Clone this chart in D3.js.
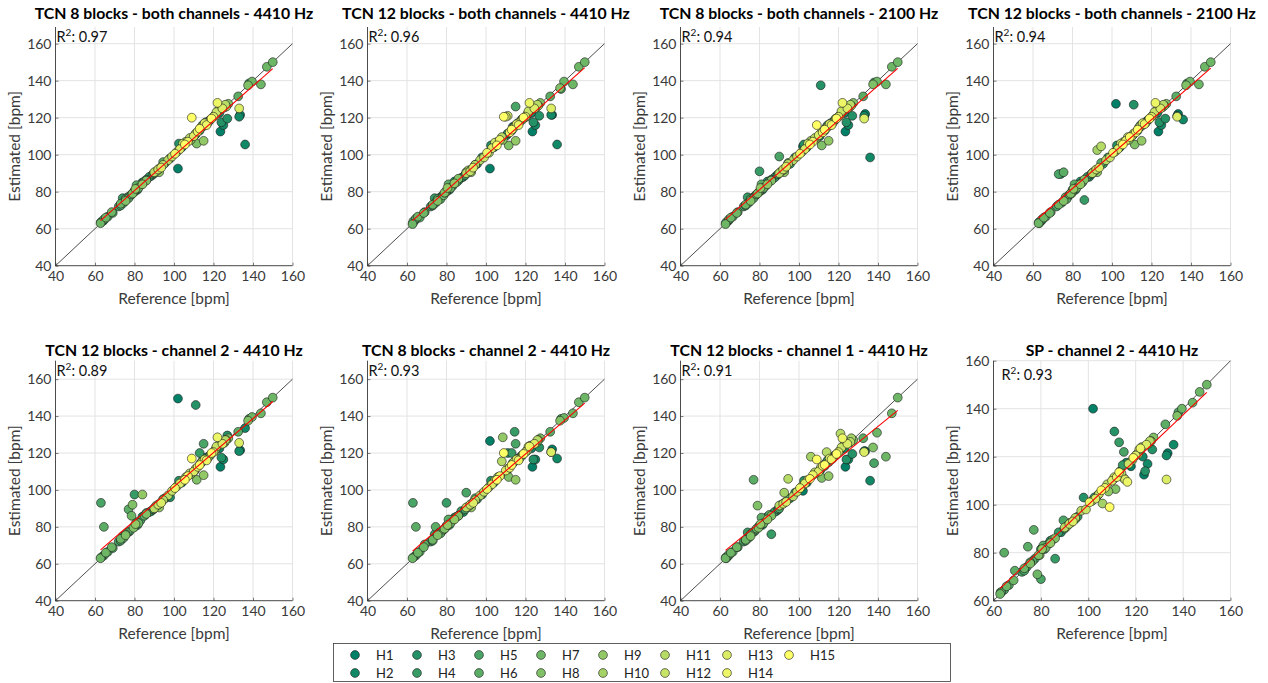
<!DOCTYPE html>
<html><head><meta charset="utf-8">
<script src="https://cdn.jsdelivr.net/npm/d3@7"></script>
<style>
body{margin:0;background:#fff}
text{font-family:Lato,"Open Sans",sans-serif}
</style>
</head><body>
<svg id="chart" width="1268" height="683"></svg>
<script>
// Reference heart rate per recording and the subject it belongs to (H1..H15)
const reference = [
  62.8, 63.2, 64.5, 65.5, 66.5, 68.5, 69, 72, 73, 74,
  74.5, 75.5, 76.5, 77.5, 78.5, 79.5, 80, 80.5, 81, 81.5,
  82, 83, 84, 85, 86, 87.5, 88.5, 89.5, 90, 91,
  92, 92.5, 93.5, 94.5, 95.5, 97, 98, 99, 100.5, 101.5,
  102, 102.5, 103, 104, 104.5, 105.5, 106, 107, 108, 108.5,
  109, 110, 110.5, 111, 111.5, 112, 113, 113.5, 114, 114.5,
  115, 115.5, 116, 116.5, 117, 118, 118.5, 119, 120, 120.5,
  121, 121.5, 122, 122.5, 123, 123.5, 124, 124.5, 125, 125.5,
  126, 126.5, 127, 127.5, 132.5, 133, 133, 133.5, 136, 137.5,
  139.5, 144, 147, 150, 111, 80, 90, 86, 73, 75.5,
  92.5, 94.5, 63, 64.5, 79, 84, 113, 115, 77, 138
];
const subject = [
  7, 6, 5, 7, 6, 7, 6, 5, 7, 4,
  6, 8, 6, 5, 7, 8, 5, 9, 6, 4,
  7, 5, 3, 6, 8, 4, 3, 5, 11, 10,
  12, 9, 13, 6, 4, 11, 3, 12, 14, 11,
  1, 3, 13, 2, 12, 15, 10, 14, 11, 9,
  15, 13, 2, 12, 8, 14, 15, 3, 11, 4,
  9, 13, 2, 14, 12, 1, 10, 15, 13, 4,
  11, 12, 14, 10, 2, 1, 3, 13, 2, 9,
  11, 10, 3, 8, 6, 13, 2, 1, 2, 8,
  7, 7, 7, 7, 3, 4, 5, 4, 5, 6,
  10, 11, 5, 6, 8, 9, 4, 5, 6, 5
];

// Estimated heart rate per recording, one array per method
const estTcn8Both4410 = [
  63, 63.5, 64.5, 66, 66.5, 69, 68.5, 72, 73.5, 76.5,
  74, 75, 77, 77.5, 78.5, 79.5, 80, 81.5, 83.5, 81,
  82, 83.5, 85, 85.5, 86, 88, 88.5, 89.5, 90.5, 91,
  92, 90.5, 93, 96, 95.5, 97, 98, 99, 100.5, 101.5,
  92.5, 106, 103, 104, 106, 105.5, 107, 107, 109, 108,
  120, 110, 110.5, 111.5, 106, 112.5, 114, 114.5, 115, 116,
  107.5, 117, 117.5, 116, 117, 118.5, 119, 119.5, 120.5, 121,
  121.5, 123, 128, 124, 122.5, 112.5, 117.5, 125, 116, 125.5,
  127, 126, 119.5, 127.5, 131.5, 125, 120.5, 121.5, 105.5, 137.5,
  139.5, 138, 147.5, 150, 111, 80.5, 90, 86.5, 72.5, 76,
  92.5, 94.5, 63.5, 65, 79, 84, 113, 115.5, 76.5, 138.5
];
const estTcn12Both4410 = [
  62.5, 64, 65, 66.5, 66, 68.5, 69, 72, 73, 76.5,
  74, 75, 76.5, 77.5, 78, 79.5, 80.5, 82, 84, 81,
  82, 83, 85.5, 85, 87, 87.5, 88, 89, 90, 91.5,
  91, 90.5, 93, 94.5, 95, 97, 98.5, 98.5, 101, 101,
  92.5, 105, 103.5, 104, 106.5, 105, 107, 108, 109.5, 108,
  120.5, 120.5, 110.5, 121, 105, 112, 113.5, 115, 114.5, 115.5,
  107.5, 116.5, 117, 116, 117.5, 119, 119, 120, 120.5, 120.5,
  122, 123.5, 128, 124, 122.5, 112.5, 117.5, 125, 116, 125.5,
  127, 126.5, 121, 128, 131.5, 125, 121.5, 121.5, 105.5, 136,
  139.5, 138, 147.5, 150, 111.5, 80, 90.5, 86, 72.5, 76,
  92, 94.5, 63, 65.5, 79.5, 84.5, 113, 126, 76, 135.5
];
const estTcn8Both2100 = [
  62.5, 63.5, 64.5, 66, 66.5, 68.5, 69, 72, 73, 77,
  74, 75, 76.5, 77.5, 78.5, 79.5, 80, 82, 84, 81,
  82, 83, 85.5, 85.5, 86, 87.5, 88.5, 89.5, 90, 91,
  92, 90.5, 93.5, 95.5, 95, 97, 98.5, 99, 100.5, 101.5,
  104.5, 105.5, 103, 104, 106, 105.5, 107.5, 107, 109, 108.5,
  116, 110.5, 110, 111.5, 105, 112, 113.5, 114.5, 114.5, 116,
  107.5, 116.5, 117, 116, 117, 118.5, 119.5, 119.5, 120.5, 121,
  121.5, 123.5, 128, 124, 122.5, 112.5, 117.5, 125, 116, 125.5,
  127, 126.5, 121, 128, 131.5, 119.5, 121, 122, 98.5, 138,
  139.5, 138, 147.5, 150, 137.5, 91, 99, 86.5, 72.5, 76,
  92, 95, 63, 65, 79, 84, 113, 115.5, 76.5, 139
];
const estTcn12Both2100 = [
  63, 63, 64.5, 66, 66.5, 68.5, 69, 72, 73, 89.5,
  74, 75, 77, 77, 78.5, 79, 80, 81.5, 84, 81,
  82, 83.5, 85.5, 85, 86.5, 88, 88, 89.5, 90, 91,
  92, 90.5, 93, 95.5, 95, 97, 98.5, 98.5, 101, 101.5,
  127.5, 105, 103, 104, 106, 105.5, 107, 107.5, 109.5, 108,
  109.5, 110, 110.5, 111.5, 105.5, 112, 113.5, 114.5, 115, 116,
  107.5, 117, 117, 116.5, 117, 118.5, 119, 119.5, 120.5, 121,
  121.5, 123, 128, 124, 122.5, 112.5, 117.5, 125, 116, 125.5,
  127, 126.5, 119.5, 127.5, 131.5, 120.5, 121, 122, 119, 137.5,
  139.5, 138, 147.5, 150, 127, 81, 90, 75.5, 89.5, 90.5,
  102.5, 104.5, 63.5, 65, 79, 84, 113, 115.5, 76, 138.5
];
const estTcn12Ch2 = [
  63, 63.5, 64.5, 66, 66.5, 69, 68.5, 72, 73.5, 75,
  74, 75.5, 77, 77.5, 86, 79.5, 80, 81.5, 82.5, 81,
  82, 83.5, 85.5, 86, 87, 88, 88.5, 89.5, 90, 91.5,
  92, 90.5, 93, 95, 95.5, 97, 96, 99.5, 101, 102,
  149.5, 105, 103.5, 104, 105, 105.5, 107, 107.5, 109, 108.5,
  117, 110, 110.5, 111.5, 105.5, 112.5, 113.5, 114.5, 115, 116,
  108, 116.5, 117.5, 116, 117, 118.5, 119, 120, 120.5, 121,
  122, 123.5, 128.5, 124, 122.5, 112.5, 117.5, 125, 116.5, 125.5,
  127, 127, 129.5, 128, 131.5, 125.5, 121, 121.5, 133.5, 137.5,
  139.5, 141.5, 147.5, 150, 146, 97.5, 90, 87.5, 72.5, 76,
  92.5, 94.5, 93, 80, 92, 97.5, 120, 125, 89.5, 138.5
];
const estTcn8Ch2 = [
  63, 63.5, 64.5, 66, 66.5, 69, 70.5, 72, 73, 76,
  80, 75.5, 77, 77.5, 78.5, 79.5, 80.5, 81, 84, 81,
  82, 83.5, 85, 85.5, 86, 88.5, 88, 89.5, 90.5, 91,
  92, 90.5, 93, 95.5, 95, 97, 97.5, 99, 100.5, 101.5,
  126.5, 105, 103, 104, 105, 105.5, 107, 107.5, 115.5, 128.5,
  120, 110.5, 110, 111.5, 107, 112, 113.5, 114.5, 115, 131.5,
  105.5, 116.5, 117, 116, 117, 118.5, 119, 119.5, 120.5, 121,
  121.5, 123.5, 123.5, 124, 122.5, 112.5, 116.5, 125, 116.5, 125.5,
  127, 127, 123, 128, 131.5, 120.5, 120.5, 122, 117, 137.5,
  139, 141.5, 147.5, 150, 120, 93, 98.5, 86, 72.5, 76,
  92.5, 94.5, 93, 80, 79, 84, 120, 125, 76.5, 138.5
];
const estTcn12Ch1 = [
  63, 63, 64.5, 66, 66.5, 69, 69, 72, 73, 77,
  74, 75, 77, 77.5, 79, 79.5, 80.5, 81.5, 85, 81,
  82, 83.5, 85.5, 86.5, 86, 88, 88.5, 89.5, 91.5, 92,
  92.5, 93, 93.5, 95, 95.5, 96.5, 98.5, 99, 101, 102,
  99.5, 105, 103.5, 104, 105.5, 106, 118, 108, 109.5, 109,
  116.5, 110, 110.5, 112, 106.5, 113, 113.5, 114.5, 120.5, 116,
  107.5, 117, 117.5, 116.5, 117, 118.5, 119, 119.5, 120.5, 121,
  130.5, 123, 128, 124, 122.5, 112.5, 116.5, 125, 116.5, 125.5,
  126, 128, 119.5, 127, 128, 120.5, 121, 121, 105, 123,
  131, 118, 141.5, 150, 111, 80.5, 90, 76, 72.5, 76,
  98.5, 106, 63.5, 65, 91.5, 84, 113, 115, 105.5, 114.5
];
const estSpCh2 = [
  62.8, 63.5, 64.5, 66, 66.5, 68.5, 72.5, 72, 73.5, 74,
  82.5, 75.5, 76.5, 77.5, 71, 79, 69, 81.5, 83, 81.5,
  82, 83.5, 85, 85.5, 86, 88.5, 88.5, 93.5, 90.5, 91,
  92, 92.5, 93, 94, 95, 97.5, 103, 98, 101, 101.5,
  140, 103, 102.5, 104, 104.5, 106, 100.5, 107, 108.5, 105.5,
  99, 110, 110.5, 111.5, 106.5, 111.5, 113.5, 114, 113, 116.5,
  111, 110.5, 117.5, 109.5, 117, 116, 118.5, 119.5, 120.5, 121,
  121, 123, 123.5, 124, 120, 112.5, 114, 125, 117, 125.5,
  126.5, 126.5, 123, 128, 133.5, 110.5, 120.5, 121.5, 125, 137,
  140, 142.5, 147, 150, 130.5, 81.5, 90, 77.5, 72.5, 76,
  92.5, 94.5, 63.5, 80, 79, 84, 126, 122, 89.5, 138.5
];

const titles = [
  "TCN 8 blocks - both channels - 4410 Hz",
  "TCN 12 blocks - both channels - 4410 Hz",
  "TCN 8 blocks - both channels - 2100 Hz",
  "TCN 12 blocks - both channels - 2100 Hz",
  "TCN 12 blocks - channel 2 - 4410 Hz",
  "TCN 8 blocks - channel 2 - 4410 Hz",
  "TCN 12 blocks - channel 1 - 4410 Hz",
  "SP - channel 2 - 4410 Hz"
];
const r2Labels = ["0.97", "0.96", "0.94", "0.94", "0.89", "0.93", "0.91", "0.93"];
const estimates = [estTcn8Both4410, estTcn12Both4410, estTcn8Both2100, estTcn12Both2100,
                   estTcn12Ch2, estTcn8Ch2, estTcn12Ch1, estSpCh2];
const tickValuesFull = [40, 60, 80, 100, 120, 140, 160];
const tickValuesSP = [60, 80, 100, 120, 140, 160];
const subjectNames = d3.range(1, 16).map(i => "H" + i);

// Layout
const svg = d3.select("#chart");
const colLeft = [55.5, 367.5, 680.5, 993.5];
const plotW = 237;
const rowTop = [27, 360.7];
const rowBottom = [265.7, 600.7];
const axisColor = "#262626";

// MATLAB "summer" colormap sampled at 15 levels
const summer = d3.scaleLinear().domain([1, 15]).range(["#008066", "#ffff66"]).interpolate(d3.interpolateRgb);

estimates.forEach((est, p) => {
  const row = p < 4 ? 0 : 1;
  const col = p % 4;
  const isSP = p === 7;
  const xMin = isSP ? 60 : 40;
  const yMax = isSP ? 160 : (row === 0 ? 169 : 170);
  const ticks = isSP ? tickValuesSP : tickValuesFull;
  const x0 = colLeft[col], x1 = x0 + plotW;
  const y0 = rowTop[row], y1 = rowBottom[row];

  const x = d3.scaleLinear().domain([xMin, 160]).range([x0, x1]);
  const y = d3.scaleLinear().domain([xMin, yMax]).range([y1, y0]);
  const g = svg.append("g");

  // grid
  g.append("g").selectAll("line").data(ticks).join("line")
    .attr("x1", d => x(d)).attr("x2", d => x(d)).attr("y1", y0).attr("y2", y1)
    .attr("stroke", "#e3e3e3").attr("stroke-width", 1);
  g.append("g").selectAll("line").data(ticks).join("line")
    .attr("x1", x0).attr("x2", x1).attr("y1", d => y(d)).attr("y2", d => y(d))
    .attr("stroke", "#e3e3e3").attr("stroke-width", 1);

  // axes
  const xAxis = g.append("g").attr("transform", `translate(0,${y1})`)
    .call(d3.axisBottom(x).tickValues(ticks).tickSize(-3).tickPadding(5).tickFormat(d3.format("d")));
  const yAxis = g.append("g").attr("transform", `translate(${x0},0)`)
    .call(d3.axisLeft(y).tickValues(ticks).tickSize(-3).tickPadding(4).tickFormat(d3.format("d")));
  [xAxis, yAxis].forEach(a => {
    a.select(".domain").remove();
    a.selectAll("line").attr("stroke", axisColor).attr("stroke-width", 0.6);
    a.selectAll("text").attr("fill", "#3a3a3a").style("font-size", "14px");
  });
  g.append("line").attr("x1", x0).attr("x2", x1).attr("y1", y1).attr("y2", y1)
    .attr("stroke", axisColor).attr("stroke-width", 0.8);
  g.append("line").attr("x1", x0).attr("x2", x0).attr("y1", y0).attr("y2", y1)
    .attr("stroke", axisColor).attr("stroke-width", 0.8);

  // identity line
  g.append("line")
    .attr("x1", x(xMin)).attr("y1", y(xMin)).attr("x2", x(160)).attr("y2", y(160))
    .attr("stroke", "#000").attr("stroke-width", 0.7);

  // points, drawn in subject order
  const pts = reference.map((r, i) => ({ r, e: est[i], s: subject[i] }))
    .sort((a, b) => a.s - b.s);
  g.append("g").selectAll("circle").data(pts).join("circle")
    .attr("cx", d => x(d.r)).attr("cy", d => y(d.e)).attr("r", 4.4)
    .attr("fill", d => summer(d.s)).attr("stroke", "#1a1a1a").attr("stroke-width", 0.6);

  // least-squares fit
  const mx = d3.mean(reference), my = d3.mean(est);
  let sxy = 0, sxx = 0;
  reference.forEach((r, i) => { sxy += (r - mx) * (est[i] - my); sxx += (r - mx) * (r - mx); });
  const slope = sxy / sxx, icpt = my - slope * mx;
  const [rmin, rmax] = d3.extent(reference);
  g.append("line")
    .attr("x1", x(rmin)).attr("y1", y(icpt + slope * rmin))
    .attr("x2", x(rmax)).attr("y2", y(icpt + slope * rmax))
    .attr("stroke", "#ff0000").attr("stroke-width", 1.1);

  // R² label
  const r2 = g.append("text")
    .attr("x", x0 + (isSP ? 8 : 1)).attr("y", y0 + (isSP ? 19 : 15))
    .attr("fill", "#111").style("font-size", "14.5px");
  r2.append("tspan").text("R");
  r2.append("tspan").attr("dy", -6).style("font-size", "10px").text("2");
  r2.append("tspan").attr("dy", 6).text(": " + r2Labels[p]);

  // title and axis labels
  g.append("text").attr("x", (x0 + x1) / 2).attr("y", y0 - (row === 0 ? 8 : 5))
    .attr("text-anchor", "middle").attr("fill", "#000")
    .style("font-size", "15.8px").style("font-weight", "bold").text(titles[p]);
  g.append("text").attr("x", (x0 + x1) / 2).attr("y", y1 + 38)
    .attr("text-anchor", "middle").attr("fill", "#3a3a3a").style("font-size", "15.5px")
    .text("Reference [bpm]");
  g.append("text")
    .attr("transform", `translate(${x0 - 36},${(y0 + y1) / 2}) rotate(-90)`)
    .attr("text-anchor", "middle").attr("fill", "#3a3a3a").style("font-size", "15.5px")
    .text("Estimated [bpm]");
});

// legend
const legend = svg.append("g");
legend.append("rect").attr("x", 333.5).attr("y", 643.5).attr("width", 617).attr("height", 38)
  .attr("fill", "#fff").attr("stroke", "#3a3a3a").attr("stroke-width", 0.8);
const legendItems = legend.selectAll("g.item").data(subjectNames).join("g").attr("class", "item")
  .attr("transform", (d, i) => `translate(${355 + Math.floor(i / 2) * 62},${i % 2 === 0 ? 655 : 673})`);
legendItems.append("circle").attr("r", 4.4)
  .attr("fill", (d, i) => summer(i + 1)).attr("stroke", "#1a1a1a").attr("stroke-width", 0.6);
legendItems.append("text").attr("x", 21).attr("y", 4.5)
  .attr("fill", "#222").style("font-size", "13px").text(d => d);
</script>
</body></html>
